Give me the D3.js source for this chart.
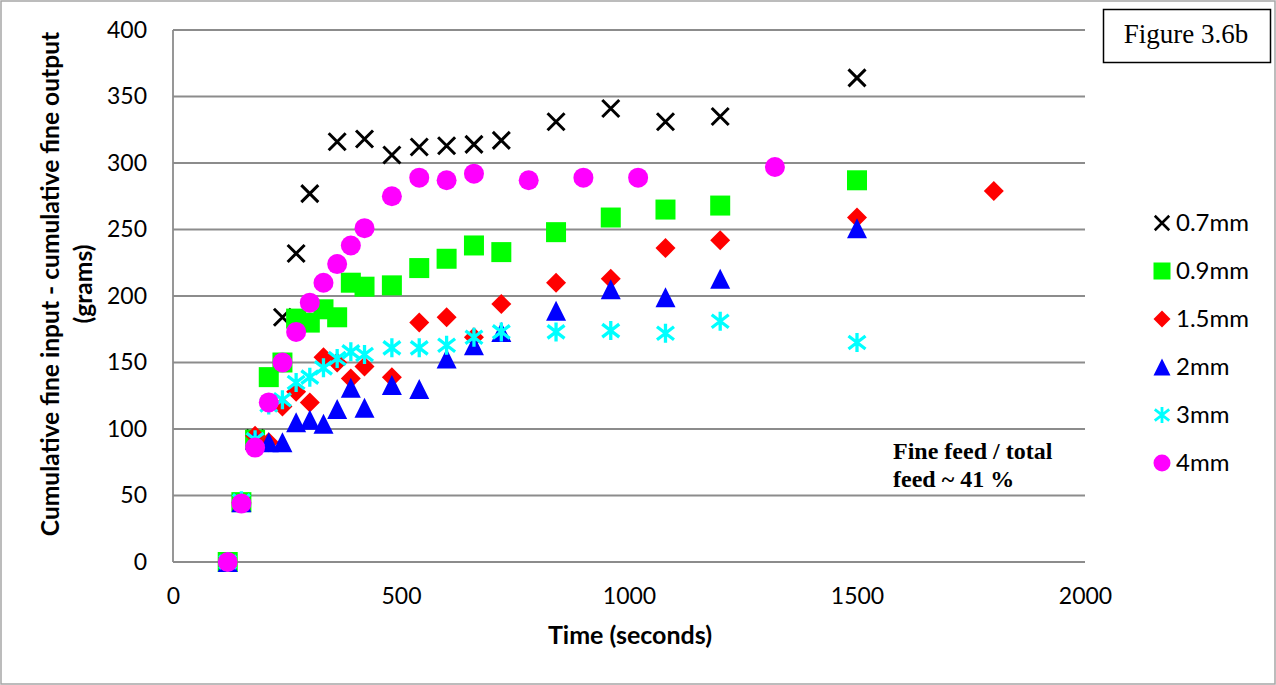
<!DOCTYPE html>
<html>
<head>
<meta charset="utf-8">
<script src="https://cdn.jsdelivr.net/npm/d3@7"></script>
<style>
  html, body { margin: 0; padding: 0; background: #fff; }
  svg { display: block; }
</style>
</head>
<body>
<script>
// ---- data ----
const seriesNames = ["0.7mm", "0.9mm", "1.5mm", "2mm", "3mm", "4mm"];
const seriesColors = ["#000000", "#00ff00", "#ff0000", "#0000ff", "#00ffff", "#ff00ff"];
const seriesShapes = ["x", "square", "diamond", "triangle", "star", "circle"];

const t07 = [120,150,180,240,270,300,360,420,480,540,600,660,720,840,960,1080,1200,1500];
const v07 = [0,45,93,184,232,277,316,318,306,312,313,314,317,331,341,331,335,364];

const t09 = [120,150,180,210,240,270,300,330,360,390,420,480,540,600,660,720,840,960,1080,1200,1500];
const v09 = [0,45,92,139,150,183,180,190,184,210,207,208,221,228,238,233,248,259,265,268,287];

const t15 = [120,150,180,210,240,270,300,330,360,390,420,480,540,600,660,720,840,960,1080,1200,1500,1800];
const v15 = [0,45,95,90,117,128,120,154,150,138,147,139,180,184,169,194,210,213,236,242,259,279];

const t2 = [120,150,180,210,240,270,300,330,360,390,420,480,540,600,660,720,840,960,1080,1200,1500];
const v2 = [0,45,92,90,90,105,107,104,115,131,116,133,130,153,163,173,189,205,199,213,251];

const t3 = [120,150,180,210,240,270,300,330,360,390,420,480,540,600,660,720,840,960,1080,1200,1500];
const v3 = [0,46,92,118,122,135,139,146,153,158,156,161,161,163,169,173,173,174,172,181,165];

const t4 = [120,150,180,210,240,270,300,330,360,390,420,480,540,600,660,780,900,1020,1320];
const v4 = [0,44,86,120,150,173,195,210,224,238,251,275,289,287,292,287,289,289,297];

const seriesTimes = [t07, t09, t15, t2, t3, t4];
const seriesValues = [v07, v09, v15, v2, v3, v4];

const xTicks = [0, 500, 1000, 1500, 2000];
const yTicks = [0, 50, 100, 150, 200, 250, 300, 350, 400];

const xTitle = "Time (seconds)";
const yTitle1 = "Cumulative fine input - cumulative fine output";
const yTitle2 = "(grams)";
const noteLines = ["Fine feed / total", "feed ~ 41 %"];
const figLabel = "Figure 3.6b";

// ---- layout ----
const W = 1276, H = 685;
const svg = d3.select("body").append("svg").attr("width", W).attr("height", H);

svg.append("rect").attr("x", 1).attr("y", 1).attr("width", W - 2).attr("height", H - 2)
  .attr("fill", "#fff").attr("stroke", "#a6a6a6").attr("stroke-width", 1.5);

const x = d3.scaleLinear().domain([0, 2000]).range([173, 1085]);
const y = d3.scaleLinear().domain([0, 400]).range([562, 30]);

const gridColor = "#8c8c8c";
const tickFont = "Lato, 'Open Sans', sans-serif";

// gridlines
svg.append("g").selectAll("line").data(yTicks).join("line")
  .attr("x1", x(0)).attr("x2", x(2000))
  .attr("y1", d => y(d)).attr("y2", d => y(d))
  .attr("stroke", gridColor).attr("stroke-width", 1.8);

// left axis line
svg.append("line").attr("x1", x(0)).attr("x2", x(0)).attr("y1", y(400)).attr("y2", y(0))
  .attr("stroke", gridColor).attr("stroke-width", 1.8);

// axes via d3
const yAxis = d3.axisLeft(y).tickValues(yTicks).tickSize(0).tickPadding(26).tickFormat(d3.format("d"));
const gy = svg.append("g").attr("transform", `translate(${x(0)},0)`).call(yAxis);
gy.select(".domain").remove();
gy.selectAll("text").attr("font-family", tickFont).attr("font-size", 23).attr("fill", "#000");

const xAxis = d3.axisBottom(x).tickValues(xTicks).tickSize(0).tickPadding(26).tickFormat(d3.format("d"));
const gx = svg.append("g").attr("transform", `translate(0,${y(0)})`).call(xAxis);
gx.select(".domain").remove();
gx.selectAll("text").attr("font-family", tickFont).attr("font-size", 23).attr("fill", "#000");

// axis titles
svg.append("text").attr("x", (x(0) + x(2000)) / 2 + 1).attr("y", 644)
  .attr("text-anchor", "middle").attr("font-family", tickFont).attr("font-weight", "bold")
  .attr("font-size", 25).text(xTitle);

const yt = svg.append("text").attr("transform", "translate(0,284) rotate(-90)")
  .attr("text-anchor", "middle").attr("font-family", tickFont).attr("font-weight", "bold")
  .attr("font-size", 24.6);
yt.append("tspan").attr("x", 0).attr("y", 59).text(yTitle1);
yt.append("tspan").attr("x", 0).attr("y", 92).text(yTitle2);

// marker drawing
function drawMarker(g, shape, color, s) {
  const h = 10 * s;
  if (shape === "square") {
    g.append("rect").attr("x", -h).attr("y", -h).attr("width", 2 * h).attr("height", 2 * h).attr("fill", color);
  } else if (shape === "circle") {
    g.append("circle").attr("r", h).attr("fill", color);
  } else if (shape === "diamond") {
    g.append("path").attr("d", `M0,${-h}L${h},0L0,${h}L${-h},0Z`).attr("fill", color);
  } else if (shape === "triangle") {
    g.append("path").attr("d", `M0,${-h}L${h},${h}L${-h},${h}Z`).attr("fill", color);
  } else if (shape === "x") {
    const a = 8.5 * s;
    g.append("path").attr("d", `M${-a},${-a}L${a},${a}M${-a},${a}L${a},${-a}`)
      .attr("stroke", color).attr("stroke-width", 3 * Math.max(s, 0.85)).attr("fill", "none");
  } else if (shape === "star") {
    const a = 8.5 * s, b = 6.5 * s, c = 9.5 * s;
    g.append("path").attr("d", `M0,${-c}L0,${c}M${-a},${-b}L${a},${b}M${-a},${b}L${a},${-b}`)
      .attr("stroke", color).attr("stroke-width", 3.3 * Math.max(s, 0.85)).attr("fill", "none");
  }
}

// series
seriesNames.forEach((name, i) => {
  const pts = seriesTimes[i].map((t, j) => [t, seriesValues[i][j]]);
  const g = svg.append("g").attr("class", "series-" + i);
  g.selectAll("g").data(pts).join("g")
    .attr("transform", d => `translate(${x(d[0])},${y(d[1])})`)
    .each(function () { drawMarker(d3.select(this), seriesShapes[i], seriesColors[i], 1); });
});

// legend
const legendY = d3.scalePoint().domain(seriesNames).range([223, 463]);
seriesNames.forEach((name, i) => {
  const g = svg.append("g").attr("transform", `translate(1162,${legendY(name)})`);
  drawMarker(g, seriesShapes[i], seriesColors[i], 0.85);
  g.append("text").attr("x", 14).attr("y", 8).attr("font-family", tickFont)
    .attr("font-size", 24).attr("fill", "#000").text(name);
});

// note
const note = svg.append("text").attr("font-family", "'Liberation Serif', 'Times New Roman', serif")
  .attr("font-weight", "bold").attr("font-size", 24).attr("fill", "#000");
noteLines.forEach((l, i) => note.append("tspan").attr("x", 893).attr("y", 459 + i * 28).text(l));

// figure label box
svg.append("rect").attr("x", 1103.5).attr("y", 9.5).attr("width", 167).attr("height", 53)
  .attr("fill", "#fff").attr("stroke", "#000").attr("stroke-width", 1.5);
svg.append("text").attr("x", 1186).attr("y", 43).attr("text-anchor", "middle")
  .attr("font-family", "'Liberation Serif', 'Times New Roman', serif").attr("font-size", 27)
  .attr("fill", "#000").text(figLabel);
</script>
</body>
</html>
